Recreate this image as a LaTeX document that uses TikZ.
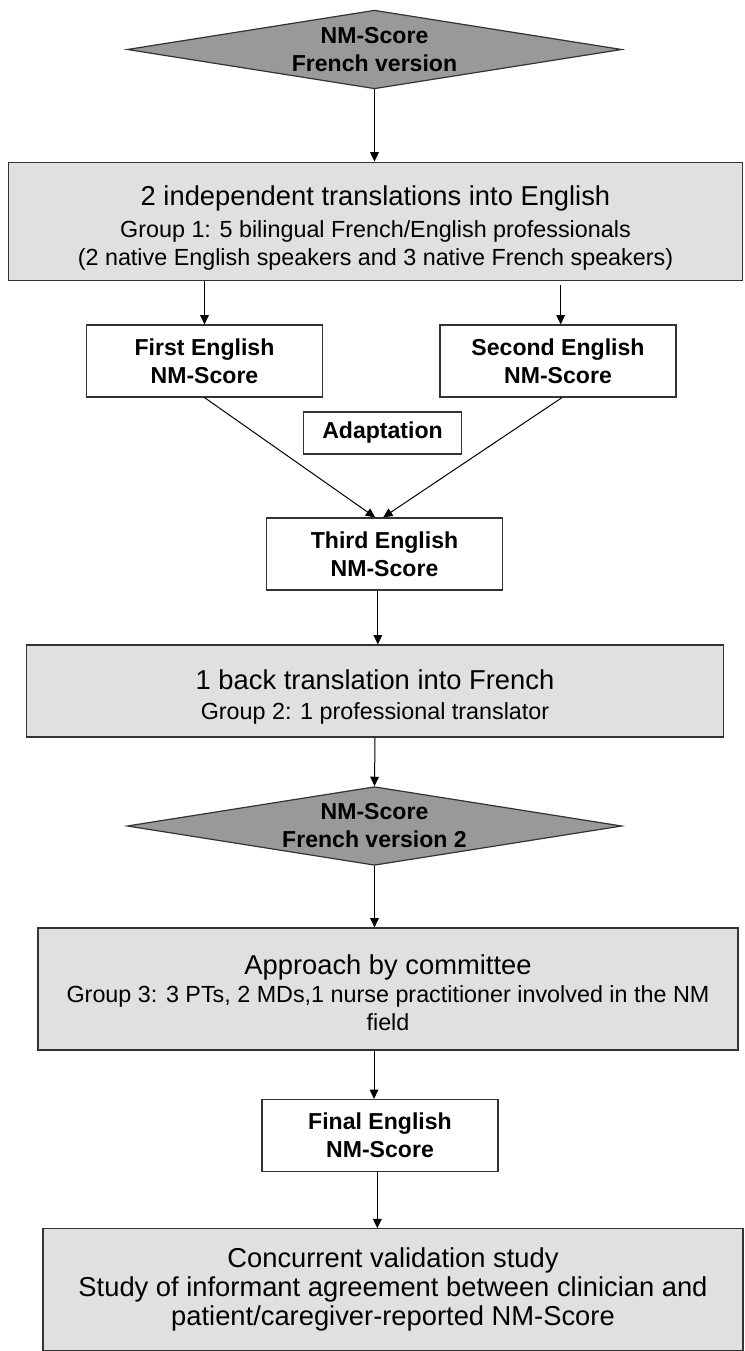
\documentclass[tikz,border=0pt]{standalone}
\usepackage{fontspec}
\setmainfont{Liberation Sans}
\usetikzlibrary{shapes.geometric,arrows.meta}
\definecolor{diamondgray}{HTML}{999999}
\definecolor{boxgray}{HTML}{E0E0E0}
\newcommand{\bigline}{\fontsize{20.5}{22}\selectfont}
\newcommand{\smallline}{\fontsize{17.5}{21}\selectfont}
\begin{document}
\begin{tikzpicture}[x=0.75pt,y=-0.75pt]
    \useasboundingbox (0,0) rectangle (745,1351);
    \begin{scope}
        \begin{scope}[every node/.style={diamond,draw=black!80,fill=diamondgray,line width=0.9pt,inner sep=0pt,aspect=6.3,minimum width=371pt,minimum height=59pt,align=center,font=\bfseries\fontsize{17.3}{21}\selectfont}]
            \node (fr1) at (374.5,49.5) {NM-Score\\French version};
            \node (fr2) at (374.5,826) {NM-Score\\French version 2};
        \end{scope}
        \begin{scope}[every node/.style={rectangle,draw=black!80,fill=boxgray,line width=0.9pt,inner sep=0pt,align=center,font=\smallline}]
            \node[minimum width=551pt,minimum height=89pt] (trans) at (375.5,221.5)
                {{\bigline\rule{0pt}{24pt}2 independent translations into English}\\[3pt]
                 Group 1: 5 bilingual French/English professionals\\
                 (2 native English speakers and 3 native French speakers)};
            \node[minimum width=523pt,minimum height=69pt] (back) at (375,691)
                {{\bigline\rule{0pt}{24pt}1 back translation into French}\\[1.5pt]
                 Group 2: 1 professional translator};
            \node[minimum width=525pt,minimum height=91.5pt] (committee) at (388,989)
                {{\bigline\rule{0pt}{21pt}Approach by committee}\\
                 Group 3: 3 PTs, 2 MDs,1 nurse practitioner involved in the NM\\
                 field};
            \node[minimum width=525pt,minimum height=91pt,font=\bigline] (study) at (393,1289.5)
                {Concurrent validation study\\
                 Study of informant agreement between clinician and\\
                 patient/caregiver-reported NM-Score};
        \end{scope}
        \begin{scope}[every node/.style={rectangle,draw=black!80,fill=white,line width=0.9pt,inner sep=0pt,align=center,minimum width=177pt,minimum height=54pt,font=\bfseries\fontsize{17.3}{21}\selectfont}]
            \node (first) at (204.5,361) {First English\\NM-Score};
            \node (second) at (558,361) {Second English\\NM-Score};
            \node[minimum width=118pt,minimum height=31.5pt] (adapt) at (382.5,433) {Adaptation};
            \node (third) at (384.5,554) {Third English\\NM-Score};
            \node (final) at (380,1135.5) {Final English\\NM-Score};
        \end{scope}
    \end{scope}
    \begin{scope}[every edge/.style={draw=black,line width=0.75pt,-{Triangle[length=7pt,width=6.5pt]}}]
        \path (fr1.south) edge (fr1.south |- trans.north)
              (first.north |- trans.south) edge (first.north)
              ([xshift=2pt]second.north |- trans.south) edge[shorten <=3pt] ([xshift=2pt]second.north)
              (first.south) edge ([xshift=-7pt]third.north)
              ([xshift=3pt]second.south) edge ([xshift=-1pt]third.north)
              ([xshift=-5pt]third.south) edge ([xshift=-5pt]third.south |- back.north)
              (back.south) edge (fr2.north)
              (fr2.south) edge (fr2.south |- committee.north)
              ([xshift=-4.5pt]final.north |- committee.south) edge ([xshift=-4.5pt]final.north)
              ([xshift=-2pt]final.south) edge ([xshift=-2pt]final.south |- study.north);
    \end{scope}
\end{tikzpicture}
\end{document}
